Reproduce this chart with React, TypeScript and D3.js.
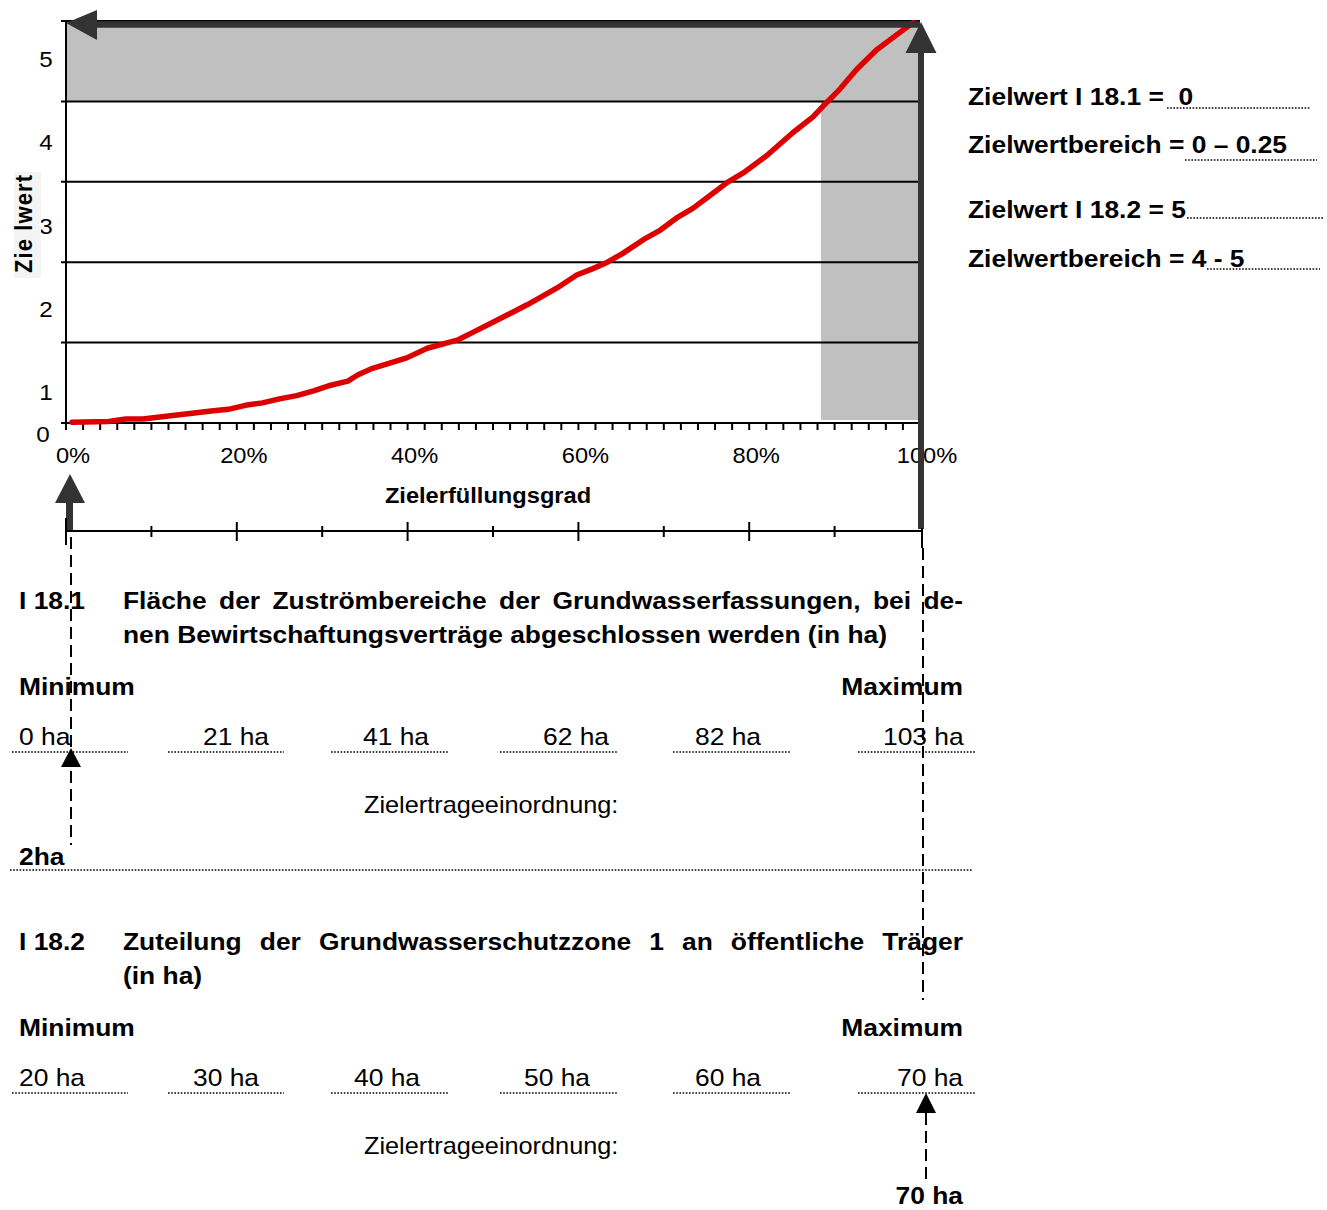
import React, { useEffect, useRef } from 'react';
import * as d3 from 'd3';

// ------- Data -------
// Zielerfüllungsgrad (%) and matching Zielwert of the red curve
const fulfilmentPct = [0.7, 5, 7, 9, 11, 13, 15, 17, 19, 21, 23, 25, 27, 29, 31, 33, 34.2, 35.9, 39.9, 42.3, 45.8, 47.7, 51.6, 54.0, 55.5, 57.5, 59.8, 61.7, 63.4, 65.2, 67.6, 69.6, 71.5, 73.4, 75.8, 77.4, 79.3, 82.1, 85.1, 87.5, 89.1, 90.6, 92.6, 94.9, 97.3, 99.2];
const zielwertValues = [0.01, 0.02, 0.05, 0.05, 0.075, 0.1, 0.125, 0.15, 0.17, 0.22, 0.25, 0.3, 0.34, 0.4, 0.47, 0.52, 0.6, 0.68, 0.81, 0.93, 1.03, 1.13, 1.34, 1.47, 1.56, 1.68, 1.84, 1.92, 2.0, 2.11, 2.28, 2.4, 2.55, 2.67, 2.86, 2.99, 3.11, 3.33, 3.61, 3.81, 3.99, 4.15, 4.4, 4.64, 4.83, 4.98];

const yTicks = [0, 1, 2, 3, 4, 5];
const xLabelPcts = [0, 20, 40, 60, 80, 100];
const xTickStep = 2;
const lowerTickStep = 10;

const targetRange182 = [4, 5];
const bandStartPct = 88.4;

const notes = [
  { text: 'Zielwert I 18.1 =  0' },
  { text: 'Zielwertbereich = 0 \u2013 0.25' },
  { text: 'Zielwert I 18.2 = 5' },
  { text: 'Zielwertbereich = 4 - 5' },
];

const section181Title = ['Fläche der Zuströmbereiche der Grundwasserfassungen, bei de-', 'nen Bewirtschaftungsverträge abgeschlossen werden (in ha)'];
const section182Title = ['Zuteilung der Grundwasserschutzzone 1 an öffentliche Träger', '(in ha)'];
const ha181 = ['0 ha', '21 ha', '41 ha', '62 ha', '82 ha', '103 ha'];
const ha182 = ['20 ha', '30 ha', '40 ha', '50 ha', '60 ha', '70 ha'];
const result181 = '2ha';
const result182 = '70 ha';

const FONT = '"Liberation Sans", Arial, sans-serif';
const SX = 1.1; // the reference text is slightly wide

export default function App() {
  const ref = useRef<SVGSVGElement>(null);

  useEffect(() => {
    if (!ref.current) return;
    const svg = d3.select(ref.current);
    svg.selectAll('*').remove();

    const txt = (x: number, y: number, s: string, o: any = {}) => {
      const g = svg.append('g').attr('transform', `translate(${x},${y}) scale(${SX},1)${o.rot ? ' rotate(-90)' : ''}`);
      const t = g.append('text')
        .attr('font-family', FONT)
        .attr('font-size', o.size ?? 24)
        .attr('font-weight', o.bold ? 'bold' : 'normal')
        .attr('text-anchor', o.anchor ?? 'start')
        .attr('fill', '#000')
        .style('white-space', 'pre')
        .text(s);
      if (o.len) t.attr('textLength', o.len).attr('lengthAdjust', 'spacing');
      return t;
    };

    const dotted = (x1: number, x2: number, y: number) => {
      svg.append('line')
        .attr('x1', x1).attr('x2', x2).attr('y1', y).attr('y2', y)
        .attr('stroke', '#000').attr('stroke-width', 1.6)
        .attr('stroke-dasharray', '1.6,1.6');
    };

    const dashed = (x: number, y1: number, y2: number) => {
      svg.append('line')
        .attr('x1', x).attr('x2', x).attr('y1', y1).attr('y2', y2)
        .attr('stroke', '#000').attr('stroke-width', 2)
        .attr('stroke-dasharray', '12,6');
    };

    const upArrow = (x: number, apex: number, base: number, half: number, fill: string) => {
      svg.append('path')
        .attr('d', `M${x},${apex} L${x + half},${base} L${x - half},${base} Z`)
        .attr('fill', fill);
    };

    const justify = (x1: number, x2: number, y: number, line: string) => {
      const words = line.split(' ');
      const nodes = words.map((w) => txt(0, y, w, { bold: true }));
      const widths = nodes.map((n) => (n.node() as SVGTextElement).getComputedTextLength() * SX);
      const gap = (x2 - x1 - d3.sum(widths)) / (words.length - 1);
      let cx = x1;
      nodes.forEach((n, i) => {
        (d3.select(n.node()!.parentNode as any) as any).attr('transform', `translate(${cx},${y}) scale(${SX},1)`);
        cx += widths[i] + gap;
      });
    };

    // ------- Scales -------
    const x = d3.scaleLinear().domain([0, 100]).range([66, 920]);
    const y = d3.scaleLinear().domain([0, 5]).range([423, 21]);

    // ------- Grey target zones -------
    svg.append('rect')
      .attr('x', x(0)).attr('y', y(targetRange182[1]))
      .attr('width', x(100) - x(0)).attr('height', y(targetRange182[0]) - y(targetRange182[1]))
      .attr('fill', '#c0c0c0');
    svg.append('rect')
      .attr('x', x(bandStartPct)).attr('y', y(5))
      .attr('width', x(100) - x(bandStartPct)).attr('height', y(0) - y(5) - 3)
      .attr('fill', '#c0c0c0');

    // ------- Grid / axes -------
    yTicks.forEach((v) => {
      svg.append('line')
        .attr('x1', 61).attr('x2', x(100)).attr('y1', y(v)).attr('y2', y(v))
        .attr('stroke', '#000').attr('stroke-width', 2);
    });
    svg.append('line')
      .attr('x1', x(0)).attr('x2', x(0)).attr('y1', y(5)).attr('y2', y(0) + 7)
      .attr('stroke', '#000').attr('stroke-width', 2);

    d3.range(0, 100 + xTickStep, xTickStep).forEach((p) => {
      svg.append('line')
        .attr('x1', x(p)).attr('x2', x(p)).attr('y1', y(0)).attr('y2', y(0) + 7)
        .attr('stroke', '#000').attr('stroke-width', 2);
    });

    // y labels (sit between the grid lines, as in the original)
    const yl = d3.scaleLinear().domain([1, 5]).range([y(0) - 23, y(5) + 46]);
    yTicks.forEach((v) => {
      if (v === 0) txt(43, y(0) + 19, String(v), { size: 22, anchor: 'middle' });
      else txt(46, yl(v), String(v), { size: 22, anchor: 'middle' });
    });
    xLabelPcts.forEach((p) => txt(x(p) + 7, 463, `${p}%`, { size: 21.5, anchor: 'middle' }));

    txt(488, 503, 'Zielerfüllungsgrad', { size: 21.5, bold: true, anchor: 'middle' });

    svg.append('rect').attr('x', 14).attr('y', 172).attr('width', 27).attr('height', 106).attr('fill', '#f4f4f4');
    txt(32, 224, 'Zie lwert', { size: 22, bold: true, anchor: 'middle', rot: true, len: 98 });

    // ------- Curve -------
    const pts = fulfilmentPct.map((p, i) => [p, zielwertValues[i]] as [number, number]);
    const line = d3.line<[number, number]>().x((d) => x(d[0])).y((d) => y(d[1])).curve(d3.curveLinear);
    svg.append('path')
      .datum(pts)
      .attr('d', line)
      .attr('fill', 'none')
      .attr('stroke', '#dd0000')
      .attr('stroke-width', 5.5)
      .attr('stroke-linejoin', 'round')
      .attr('stroke-linecap', 'round');

    // ------- Dark arrows -------
    svg.append('line')
      .attr('x1', x(0) + 20).attr('x2', x(100)).attr('y1', y(5) + 3.5).attr('y2', y(5) + 3.5)
      .attr('stroke', '#333').attr('stroke-width', 6.5);
    svg.append('path')
      .attr('d', `M${x(0)},${y(5) + 2} L${x(0) + 31},${y(5) - 11} L${x(0) + 31},${y(5) + 19} Z`)
      .attr('fill', '#333');

    svg.append('line')
      .attr('x1', x(100) + 1).attr('x2', x(100) + 1).attr('y1', 50).attr('y2', 529)
      .attr('stroke', '#333').attr('stroke-width', 6);
    upArrow(x(100) + 1, y(5) + 1, 53, 15.5, '#333');

    svg.append('line')
      .attr('x1', 69.5).attr('x2', 69.5).attr('y1', 500).attr('y2', 530)
      .attr('stroke', '#333').attr('stroke-width', 7);
    upArrow(70, 474, 503, 15, '#333');

    // ------- Lower scale -------
    svg.append('line')
      .attr('x1', x(0)).attr('x2', x(100) + 2).attr('y1', 531).attr('y2', 531)
      .attr('stroke', '#000').attr('stroke-width', 2);
    d3.range(lowerTickStep, 100, lowerTickStep).forEach((p) => {
      const major = p % 20 === 0;
      svg.append('line')
        .attr('x1', x(p)).attr('x2', x(p))
        .attr('y1', major ? 522 : 526).attr('y2', major ? 541 : 537)
        .attr('stroke', '#000').attr('stroke-width', 2);
    });
    svg.append('line').attr('x1', x(0)).attr('x2', x(0)).attr('y1', 518).attr('y2', 545).attr('stroke', '#000').attr('stroke-width', 2);
    svg.append('line').attr('x1', x(100) + 2).attr('x2', x(100) + 2).attr('y1', 528).attr('y2', 548).attr('stroke', '#000').attr('stroke-width', 2);

    // ------- Notes at right -------
    const noteBase = [105, 153, 218, 267];
    const noteDots = [[1167, 1310, 108], [1185, 1317, 160], [1187, 1323, 218], [1207, 1320, 269]];
    notes.forEach((n, i) => {
      txt(968, noteBase[i], n.text, { bold: true });
      dotted(noteDots[i][0], noteDots[i][1], noteDots[i][2]);
    });

    // ------- Sections -------
    const cells = [[12, 128], [168, 284], [331, 448], [500, 617], [673, 790], [858, 975]];
    const sections = [
      { code: 'I 18.1', title: section181Title, ha: ha181, starts: [19, 203, 363, 543, 695, 883], off: 0 },
      { code: 'I 18.2', title: section182Title, ha: ha182, starts: [19, 193, 354, 524, 695, 897], off: 341 },
    ];
    sections.forEach((s) => {
      const o = s.off;
      txt(19, 609 + o, s.code, { bold: true });
      justify(123, 963, 609 + o, s.title[0]);
      txt(123, 643 + o, s.title[1], { bold: true });
      txt(19, 695 + o, 'Minimum', { bold: true });
      txt(963, 695 + o, 'Maximum', { bold: true, anchor: 'end' });
      s.ha.forEach((h, i) => txt(s.starts[i], 745 + o, h));
      cells.forEach((c) => dotted(c[0], c[1], 752 + o));
      txt(364, 813 + o, 'Zielertrageeinordnung:', { size: 23 });
    });
    txt(19, 865, result181, { bold: true });
    dotted(10, 972, 870);
    txt(963, 1204, result182, { bold: true, anchor: 'end' });

    // ------- Dashed pointers -------
    dashed(71, 537, 845);
    upArrow(71, 748, 767, 10, '#000');
    dashed(923, 548, 1000);
    dashed(926, 1113, 1182);
    upArrow(926, 1093, 1113, 10, '#000');
  }, []);

  return (
    <svg
      ref={ref}
      width={1327}
      height={1210}
      style={{ position: 'absolute', left: 0, top: 0, background: '#fff' }}
    />
  );
}
